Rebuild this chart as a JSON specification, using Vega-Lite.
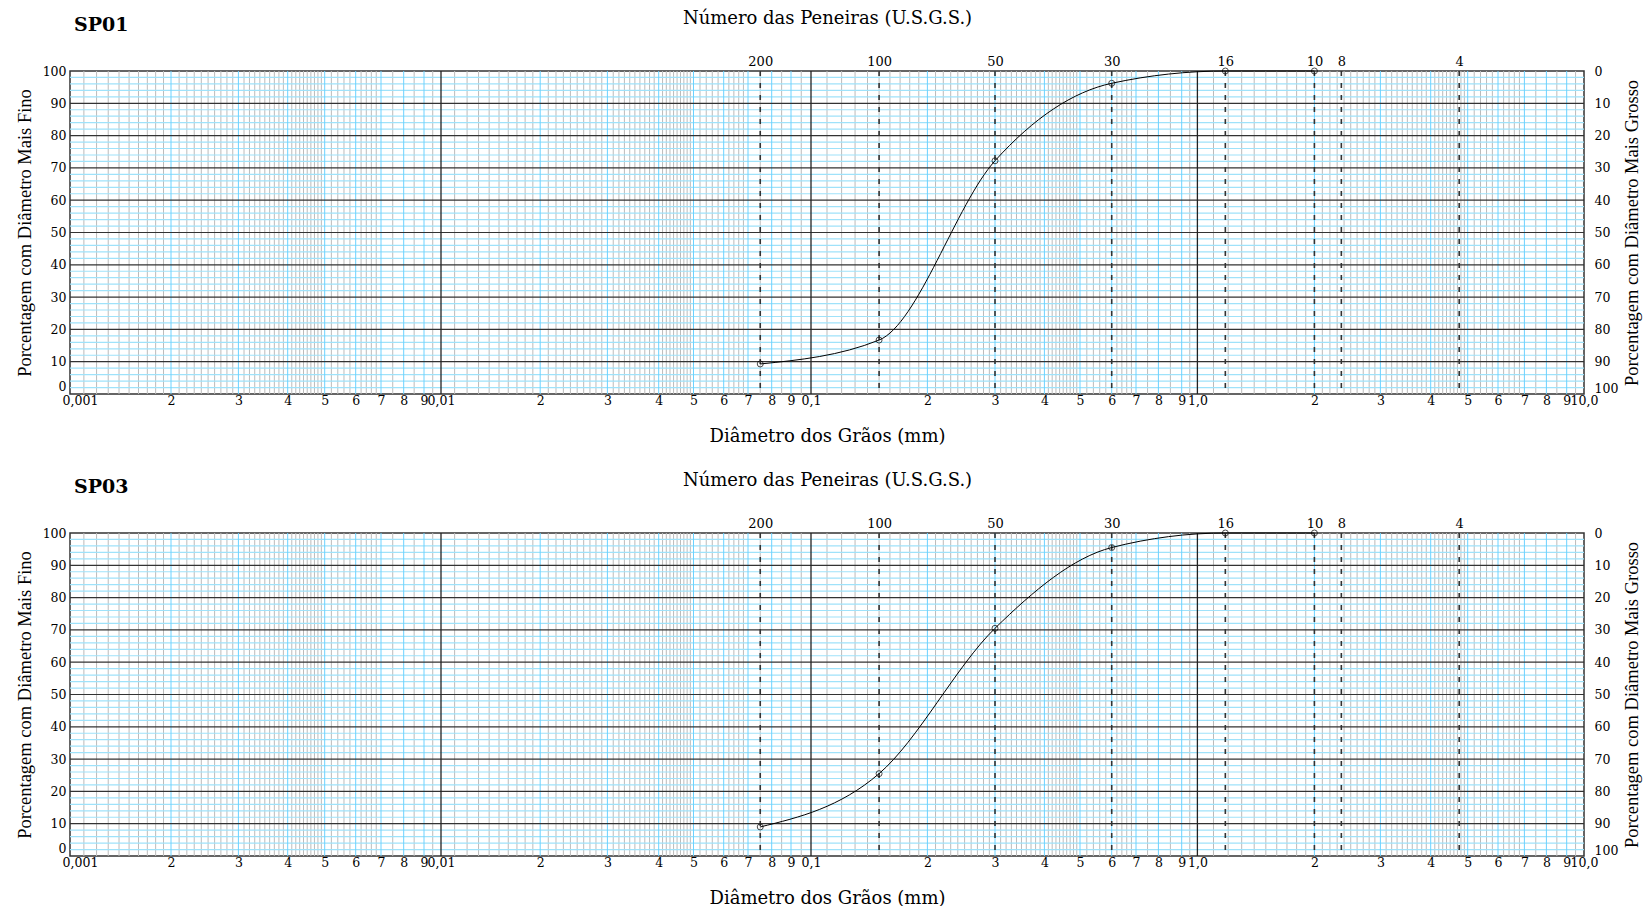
{
"$schema":"https://vega.github.io/schema/vega-lite/v6.json",
"background":"white",
"padding":{"left":14,"top":8,"right":5,"bottom":5},
"config":{"view":{"stroke":"#333","strokeWidth":1.5},"concat":{"spacing":23}},
"datasets":{
"vg":[{"v":0.0011},{"v":0.0012},{"v":0.0013},{"v":0.0014},{"v":0.0015},{"v":0.0016},{"v":0.0017},{"v":0.0018},{"v":0.0019},{"v":0.0021},{"v":0.0022},{"v":0.0023},{"v":0.0024},{"v":0.0025},{"v":0.0026},{"v":0.0027},{"v":0.0028},{"v":0.0029},{"v":0.0031},{"v":0.0032},{"v":0.0033},{"v":0.0034},{"v":0.0035},{"v":0.0036},{"v":0.0037},{"v":0.0038},{"v":0.0039},{"v":0.0041},{"v":0.0042},{"v":0.0043},{"v":0.0044},{"v":0.0045},{"v":0.0046},{"v":0.0047},{"v":0.0048},{"v":0.0049},{"v":0.0052},{"v":0.0054},{"v":0.0056},{"v":0.0058},{"v":0.0062},{"v":0.0064},{"v":0.0066},{"v":0.0068},{"v":0.0075},{"v":0.0085},{"v":0.0095},
{"v":0.011},{"v":0.012},{"v":0.013},{"v":0.014},{"v":0.015},{"v":0.016},{"v":0.017},{"v":0.018},{"v":0.019},{"v":0.021},{"v":0.022},{"v":0.023},{"v":0.024},{"v":0.025},{"v":0.026},{"v":0.027},{"v":0.028},{"v":0.029},{"v":0.031},{"v":0.032},{"v":0.033},{"v":0.034},{"v":0.035},{"v":0.036},{"v":0.037},{"v":0.038},{"v":0.039},{"v":0.041},{"v":0.042},{"v":0.043},{"v":0.044},{"v":0.045},{"v":0.046},{"v":0.047},{"v":0.048},{"v":0.049},{"v":0.052},{"v":0.054},{"v":0.056},{"v":0.058},{"v":0.062},{"v":0.064},{"v":0.066},{"v":0.068},{"v":0.075},{"v":0.085},{"v":0.095},
{"v":0.11},{"v":0.12},{"v":0.13},{"v":0.14},{"v":0.15},{"v":0.16},{"v":0.17},{"v":0.18},{"v":0.19},{"v":0.21},{"v":0.22},{"v":0.23},{"v":0.24},{"v":0.25},{"v":0.26},{"v":0.27},{"v":0.28},{"v":0.29},{"v":0.31},{"v":0.32},{"v":0.33},{"v":0.34},{"v":0.35},{"v":0.36},{"v":0.37},{"v":0.38},{"v":0.39},{"v":0.41},{"v":0.42},{"v":0.43},{"v":0.44},{"v":0.45},{"v":0.46},{"v":0.47},{"v":0.48},{"v":0.49},{"v":0.52},{"v":0.54},{"v":0.56},{"v":0.58},{"v":0.62},{"v":0.64},{"v":0.66},{"v":0.68},{"v":0.75},{"v":0.85},{"v":0.95},
{"v":1.1},{"v":1.2},{"v":1.3},{"v":1.4},{"v":1.5},{"v":1.6},{"v":1.7},{"v":1.8},{"v":1.9},{"v":2.1},{"v":2.2},{"v":2.3},{"v":2.4},{"v":2.5},{"v":2.6},{"v":2.7},{"v":2.8},{"v":2.9},{"v":3.1},{"v":3.2},{"v":3.3},{"v":3.4},{"v":3.5},{"v":3.6},{"v":3.7},{"v":3.8},{"v":3.9},{"v":4.1},{"v":4.2},{"v":4.3},{"v":4.4},{"v":4.5},{"v":4.6},{"v":4.7},{"v":4.8},{"v":4.9},{"v":5.2},{"v":5.4},{"v":5.6},{"v":5.8},{"v":6.2},{"v":6.4},{"v":6.6},{"v":6.8},{"v":7.5},{"v":8.5},{"v":9.5}],
"vc":[{"v":0.002},{"v":0.003},{"v":0.004},{"v":0.005},{"v":0.006},{"v":0.007},{"v":0.008},{"v":0.009},{"v":0.02},{"v":0.03},{"v":0.04},{"v":0.05},{"v":0.06},{"v":0.07},{"v":0.08},{"v":0.09},{"v":0.2},{"v":0.3},{"v":0.4},{"v":0.5},{"v":0.6},{"v":0.7},{"v":0.8},{"v":0.9},{"v":2},{"v":3},{"v":4},{"v":5},{"v":6},{"v":7},{"v":8},{"v":9}],
"vd":[{"v":0.01},{"v":0.1},{"v":1}],
"hc":[{"h":2},{"h":4},{"h":6},{"h":8},{"h":12},{"h":14},{"h":16},{"h":18},{"h":22},{"h":24},{"h":26},{"h":28},{"h":32},{"h":34},{"h":36},{"h":38},{"h":42},{"h":44},{"h":46},{"h":48},{"h":52},{"h":54},{"h":56},{"h":58},{"h":62},{"h":64},{"h":66},{"h":68},{"h":72},{"h":74},{"h":76},{"h":78},{"h":82},{"h":84},{"h":86},{"h":88},{"h":92},{"h":94},{"h":96},{"h":98}],
"hd":[{"h":10},{"h":20},{"h":30},{"h":40},{"h":50},{"h":60},{"h":70},{"h":80},{"h":90}],
"sv":[{"d":0.075,"n":"200"},{"d":0.15,"n":"100"},{"d":0.3,"n":"50"},{"d":0.6,"n":"30"},{"d":1.18,"n":"16"},{"d":2,"n":"10"},{"d":2.36,"n":"8"},{"d":4.75,"n":"4"}],
"curve":[
{"s":"SP01","d":0.075,"p":9.3},{"s":"SP01","d":0.15,"p":16.7},{"s":"SP01","d":0.3,"p":72.2},{"s":"SP01","d":0.6,"p":96.2},{"s":"SP01","d":1.18,"p":100},{"s":"SP01","d":2,"p":100},
{"s":"SP03","d":0.075,"p":9.0},{"s":"SP03","d":0.15,"p":25.5},{"s":"SP03","d":0.3,"p":70.5},{"s":"SP03","d":0.6,"p":95.5},{"s":"SP03","d":1.18,"p":100},{"s":"SP03","d":2,"p":100}]
},
"vconcat":[
{
"title":{"text":"SP01","anchor":"start","frame":"group","font":"DejaVu Serif","fontWeight":"bold","fontSize":19,"color":"#000","offset":-26,"dx":4},
"width":1514,"height":323,
"resolve":{"axis":{"x":"independent","y":"independent"}},
"layer":[
{"data":{"name":"vg"},"mark":{"type":"rule","color":"#bbbbbb","strokeWidth":1},"encoding":{"x":{"field":"v","type":"quantitative","axis":null,"scale":{"type":"log","nice":false,"domain":[0.001,0.002,0.003,0.004,0.005,0.006,0.007,0.008,0.009,0.01,0.02,0.03,0.04,0.05,0.06,0.07,0.08,0.09,0.1,0.2,0.3,0.4,0.5,0.6,0.7,0.8,0.9,1,2,3,4,5,6,7,8,9,10],"range":[0,101,168.4,217.7,254.7,285.7,311,333.7,354,371,470.2,537.4,588.7,623.5,653.7,678,701.7,721,741,857.4,925,974.4,1010,1041.7,1066,1088.4,1111.7,1127.4,1244.4,1310.4,1360.7,1397.7,1428,1454.4,1476.4,1496.7,1514]}}}},
{"data":{"name":"hc"},"mark":{"type":"rule","color":"#9fe2fa","strokeWidth":1.2},"encoding":{"y":{"field":"h","type":"quantitative","axis":null,"scale":{"domain":[0,100],"nice":false,"zero":false}}}},
{"data":{"name":"vc"},"mark":{"type":"rule","color":"#6cd2ff","strokeWidth":1},"encoding":{"x":{"field":"v","type":"quantitative","axis":null,"scale":{"type":"log","nice":false,"domain":[0.001,0.002,0.003,0.004,0.005,0.006,0.007,0.008,0.009,0.01,0.02,0.03,0.04,0.05,0.06,0.07,0.08,0.09,0.1,0.2,0.3,0.4,0.5,0.6,0.7,0.8,0.9,1,2,3,4,5,6,7,8,9,10],"range":[0,101,168.4,217.7,254.7,285.7,311,333.7,354,371,470.2,537.4,588.7,623.5,653.7,678,701.7,721,741,857.4,925,974.4,1010,1041.7,1066,1088.4,1111.7,1127.4,1244.4,1310.4,1360.7,1397.7,1428,1454.4,1476.4,1496.7,1514]}}}},
{"data":{"name":"hd"},"mark":{"type":"rule","color":"#333333","strokeWidth":1.2},"encoding":{"y":{"field":"h","type":"quantitative","axis":null,"scale":{"domain":[0,100],"nice":false,"zero":false}}}},
{"data":{"name":"vd"},"mark":{"type":"rule","color":"#222222","strokeWidth":1.3},"encoding":{"x":{"field":"v","type":"quantitative","axis":null,"scale":{"type":"log","nice":false,"domain":[0.001,0.002,0.003,0.004,0.005,0.006,0.007,0.008,0.009,0.01,0.02,0.03,0.04,0.05,0.06,0.07,0.08,0.09,0.1,0.2,0.3,0.4,0.5,0.6,0.7,0.8,0.9,1,2,3,4,5,6,7,8,9,10],"range":[0,101,168.4,217.7,254.7,285.7,311,333.7,354,371,470.2,537.4,588.7,623.5,653.7,678,701.7,721,741,857.4,925,974.4,1010,1041.7,1066,1088.4,1111.7,1127.4,1244.4,1310.4,1360.7,1397.7,1428,1454.4,1476.4,1496.7,1514]}}}},
{"data":{"name":"sv"},"mark":{"type":"rule","color":"#333333","strokeWidth":1.6,"strokeDash":[5,7]},"encoding":{"x":{"field":"d","type":"quantitative","scale":{"type":"log","nice":false,"domain":[0.001,0.002,0.003,0.004,0.005,0.006,0.007,0.008,0.009,0.01,0.02,0.03,0.04,0.05,0.06,0.07,0.08,0.09,0.1,0.2,0.3,0.4,0.5,0.6,0.7,0.8,0.9,1,2,3,4,5,6,7,8,9,10],"range":[0,101,168.4,217.7,254.7,285.7,311,333.7,354,371,470.2,537.4,588.7,623.5,653.7,678,701.7,721,741,857.4,925,974.4,1010,1041.7,1066,1088.4,1111.7,1127.4,1244.4,1310.4,1360.7,1397.7,1428,1454.4,1476.4,1496.7,1514]},"axis":{"orient":"top","values":[0.075,0.15,0.3,0.6,1.18,2,2.36,4.75],"labelExpr":"datum.value==0.075?'200':datum.value==0.15?'100':datum.value==0.3?'50':datum.value==0.6?'30':datum.value==1.18?'16':datum.value==2?'10':datum.value==2.36?'8':'4'","title":"Número das Peneiras (U.S.G.S.)","grid":false,"ticks":false,"domain":false,"labelOverlap":false,"labelFlush":false,"labelFont":"DejaVu Serif","labelFontSize":13,"labelColor":"#000","labelPadding":3,"titleFont":"DejaVu Serif","titleFontSize":18,"titleFontWeight":"normal","titleColor":"#000","titlePadding":28}}}},
{"data":{"name":"curve"},"transform":[{"filter":"datum.s=='SP01'"}],"mark":{"type":"line","color":"#000","strokeWidth":1,"interpolate":"monotone"},"encoding":{"x":{"field":"d","type":"quantitative","scale":{"type":"log","nice":false,"domain":[0.001,0.002,0.003,0.004,0.005,0.006,0.007,0.008,0.009,0.01,0.02,0.03,0.04,0.05,0.06,0.07,0.08,0.09,0.1,0.2,0.3,0.4,0.5,0.6,0.7,0.8,0.9,1,2,3,4,5,6,7,8,9,10],"range":[0,101,168.4,217.7,254.7,285.7,311,333.7,354,371,470.2,537.4,588.7,623.5,653.7,678,701.7,721,741,857.4,925,974.4,1010,1041.7,1066,1088.4,1111.7,1127.4,1244.4,1310.4,1360.7,1397.7,1428,1454.4,1476.4,1496.7,1514]},"axis":{"orient":"bottom","values":[0.001,0.002,0.003,0.004,0.005,0.006,0.007,0.008,0.009,0.01,0.02,0.03,0.04,0.05,0.06,0.07,0.08,0.09,0.1,0.2,0.3,0.4,0.5,0.6,0.7,0.8,0.9,1,2,3,4,5,6,7,8,9,10],"labelExpr":"datum.value==0.001?'0,001':datum.value==0.01?'0,01':datum.value==0.1?'0,1':datum.value==1?'1,0':datum.value==10?'10,0':format(datum.value/pow(10,floor(log(datum.value)/LN10+1e-9)),'.0f')","labelOffset":{"condition":{"test":"datum.value==0.001","value":10},"value":0},"title":"Diâmetro dos Grãos (mm)","grid":false,"ticks":false,"domain":false,"labelOverlap":false,"labelFlush":false,"labelFont":"DejaVu Serif","labelFontSize":12.5,"labelColor":"#000","labelPadding":0,"titleFont":"DejaVu Serif","titleFontSize":18,"titleFontWeight":"normal","titleColor":"#000","titlePadding":21}},"y":{"field":"p","type":"quantitative","scale":{"domain":[0,100],"nice":false,"zero":false},"axis":{"orient":"left","values":[0,10,20,30,40,50,60,70,80,90,100],"labelOffset":{"condition":{"test":"datum.value==0","value":-8},"value":0},"title":"Porcentagem com Diâmetro Mais Fino","grid":false,"ticks":false,"domain":false,"labelFlush":false,"labelOverlap":false,"labelFont":"DejaVu Serif","labelFontSize":12.5,"labelColor":"#000","labelPadding":4,"titleFont":"Liberation Serif","titleFontSize":18.5,"titleFontWeight":"normal","titleColor":"#000","titlePadding":8}}}},
{"data":{"name":"curve"},"transform":[{"filter":"datum.s=='SP01'"}],"mark":{"type":"point","shape":"circle","filled":false,"color":"#000","size":36,"strokeWidth":1},"encoding":{"x":{"field":"d","type":"quantitative","axis":null,"scale":{"type":"log","nice":false,"domain":[0.001,0.002,0.003,0.004,0.005,0.006,0.007,0.008,0.009,0.01,0.02,0.03,0.04,0.05,0.06,0.07,0.08,0.09,0.1,0.2,0.3,0.4,0.5,0.6,0.7,0.8,0.9,1,2,3,4,5,6,7,8,9,10],"range":[0,101,168.4,217.7,254.7,285.7,311,333.7,354,371,470.2,537.4,588.7,623.5,653.7,678,701.7,721,741,857.4,925,974.4,1010,1041.7,1066,1088.4,1111.7,1127.4,1244.4,1310.4,1360.7,1397.7,1428,1454.4,1476.4,1496.7,1514]}},"y":{"field":"p","type":"quantitative","scale":{"domain":[0,100],"nice":false,"zero":false},"axis":{"orient":"right","values":[0,10,20,30,40,50,60,70,80,90,100],"labelExpr":"''+(100-datum.value)","labelOffset":{"condition":{"test":"datum.value==0","value":-6},"value":0},"title":"Porcentagem com Diâmetro Mais Grosso","titleAngle":270,"grid":false,"ticks":false,"domain":false,"labelFlush":false,"labelOverlap":false,"labelFont":"DejaVu Serif","labelFontSize":12.5,"labelColor":"#000","labelPadding":10,"titleFont":"Liberation Serif","titleFontSize":18.5,"titleFontWeight":"normal","titleColor":"#000","titlePadding":24}}}}
]
},
{
"title":{"text":"SP03","anchor":"start","frame":"group","font":"DejaVu Serif","fontWeight":"bold","fontSize":19,"color":"#000","offset":-26,"dx":4},
"width":1514,"height":323,
"resolve":{"axis":{"x":"independent","y":"independent"}},
"layer":[
{"data":{"name":"vg"},"mark":{"type":"rule","color":"#bbbbbb","strokeWidth":1},"encoding":{"x":{"field":"v","type":"quantitative","axis":null,"scale":{"type":"log","nice":false,"domain":[0.001,0.002,0.003,0.004,0.005,0.006,0.007,0.008,0.009,0.01,0.02,0.03,0.04,0.05,0.06,0.07,0.08,0.09,0.1,0.2,0.3,0.4,0.5,0.6,0.7,0.8,0.9,1,2,3,4,5,6,7,8,9,10],"range":[0,101,168.4,217.7,254.7,285.7,311,333.7,354,371,470.2,537.4,588.7,623.5,653.7,678,701.7,721,741,857.4,925,974.4,1010,1041.7,1066,1088.4,1111.7,1127.4,1244.4,1310.4,1360.7,1397.7,1428,1454.4,1476.4,1496.7,1514]}}}},
{"data":{"name":"hc"},"mark":{"type":"rule","color":"#9fe2fa","strokeWidth":1.2},"encoding":{"y":{"field":"h","type":"quantitative","axis":null,"scale":{"domain":[0,100],"nice":false,"zero":false}}}},
{"data":{"name":"vc"},"mark":{"type":"rule","color":"#6cd2ff","strokeWidth":1},"encoding":{"x":{"field":"v","type":"quantitative","axis":null,"scale":{"type":"log","nice":false,"domain":[0.001,0.002,0.003,0.004,0.005,0.006,0.007,0.008,0.009,0.01,0.02,0.03,0.04,0.05,0.06,0.07,0.08,0.09,0.1,0.2,0.3,0.4,0.5,0.6,0.7,0.8,0.9,1,2,3,4,5,6,7,8,9,10],"range":[0,101,168.4,217.7,254.7,285.7,311,333.7,354,371,470.2,537.4,588.7,623.5,653.7,678,701.7,721,741,857.4,925,974.4,1010,1041.7,1066,1088.4,1111.7,1127.4,1244.4,1310.4,1360.7,1397.7,1428,1454.4,1476.4,1496.7,1514]}}}},
{"data":{"name":"hd"},"mark":{"type":"rule","color":"#333333","strokeWidth":1.2},"encoding":{"y":{"field":"h","type":"quantitative","axis":null,"scale":{"domain":[0,100],"nice":false,"zero":false}}}},
{"data":{"name":"vd"},"mark":{"type":"rule","color":"#222222","strokeWidth":1.3},"encoding":{"x":{"field":"v","type":"quantitative","axis":null,"scale":{"type":"log","nice":false,"domain":[0.001,0.002,0.003,0.004,0.005,0.006,0.007,0.008,0.009,0.01,0.02,0.03,0.04,0.05,0.06,0.07,0.08,0.09,0.1,0.2,0.3,0.4,0.5,0.6,0.7,0.8,0.9,1,2,3,4,5,6,7,8,9,10],"range":[0,101,168.4,217.7,254.7,285.7,311,333.7,354,371,470.2,537.4,588.7,623.5,653.7,678,701.7,721,741,857.4,925,974.4,1010,1041.7,1066,1088.4,1111.7,1127.4,1244.4,1310.4,1360.7,1397.7,1428,1454.4,1476.4,1496.7,1514]}}}},
{"data":{"name":"sv"},"mark":{"type":"rule","color":"#333333","strokeWidth":1.6,"strokeDash":[5,7]},"encoding":{"x":{"field":"d","type":"quantitative","scale":{"type":"log","nice":false,"domain":[0.001,0.002,0.003,0.004,0.005,0.006,0.007,0.008,0.009,0.01,0.02,0.03,0.04,0.05,0.06,0.07,0.08,0.09,0.1,0.2,0.3,0.4,0.5,0.6,0.7,0.8,0.9,1,2,3,4,5,6,7,8,9,10],"range":[0,101,168.4,217.7,254.7,285.7,311,333.7,354,371,470.2,537.4,588.7,623.5,653.7,678,701.7,721,741,857.4,925,974.4,1010,1041.7,1066,1088.4,1111.7,1127.4,1244.4,1310.4,1360.7,1397.7,1428,1454.4,1476.4,1496.7,1514]},"axis":{"orient":"top","values":[0.075,0.15,0.3,0.6,1.18,2,2.36,4.75],"labelExpr":"datum.value==0.075?'200':datum.value==0.15?'100':datum.value==0.3?'50':datum.value==0.6?'30':datum.value==1.18?'16':datum.value==2?'10':datum.value==2.36?'8':'4'","title":"Número das Peneiras (U.S.G.S.)","grid":false,"ticks":false,"domain":false,"labelOverlap":false,"labelFlush":false,"labelFont":"DejaVu Serif","labelFontSize":13,"labelColor":"#000","labelPadding":3,"titleFont":"DejaVu Serif","titleFontSize":18,"titleFontWeight":"normal","titleColor":"#000","titlePadding":28}}}},
{"data":{"name":"curve"},"transform":[{"filter":"datum.s=='SP03'"}],"mark":{"type":"line","color":"#000","strokeWidth":1,"interpolate":"monotone"},"encoding":{"x":{"field":"d","type":"quantitative","scale":{"type":"log","nice":false,"domain":[0.001,0.002,0.003,0.004,0.005,0.006,0.007,0.008,0.009,0.01,0.02,0.03,0.04,0.05,0.06,0.07,0.08,0.09,0.1,0.2,0.3,0.4,0.5,0.6,0.7,0.8,0.9,1,2,3,4,5,6,7,8,9,10],"range":[0,101,168.4,217.7,254.7,285.7,311,333.7,354,371,470.2,537.4,588.7,623.5,653.7,678,701.7,721,741,857.4,925,974.4,1010,1041.7,1066,1088.4,1111.7,1127.4,1244.4,1310.4,1360.7,1397.7,1428,1454.4,1476.4,1496.7,1514]},"axis":{"orient":"bottom","values":[0.001,0.002,0.003,0.004,0.005,0.006,0.007,0.008,0.009,0.01,0.02,0.03,0.04,0.05,0.06,0.07,0.08,0.09,0.1,0.2,0.3,0.4,0.5,0.6,0.7,0.8,0.9,1,2,3,4,5,6,7,8,9,10],"labelExpr":"datum.value==0.001?'0,001':datum.value==0.01?'0,01':datum.value==0.1?'0,1':datum.value==1?'1,0':datum.value==10?'10,0':format(datum.value/pow(10,floor(log(datum.value)/LN10+1e-9)),'.0f')","labelOffset":{"condition":{"test":"datum.value==0.001","value":10},"value":0},"title":"Diâmetro dos Grãos (mm)","grid":false,"ticks":false,"domain":false,"labelOverlap":false,"labelFlush":false,"labelFont":"DejaVu Serif","labelFontSize":12.5,"labelColor":"#000","labelPadding":0,"titleFont":"DejaVu Serif","titleFontSize":18,"titleFontWeight":"normal","titleColor":"#000","titlePadding":21}},"y":{"field":"p","type":"quantitative","scale":{"domain":[0,100],"nice":false,"zero":false},"axis":{"orient":"left","values":[0,10,20,30,40,50,60,70,80,90,100],"labelOffset":{"condition":{"test":"datum.value==0","value":-8},"value":0},"title":"Porcentagem com Diâmetro Mais Fino","grid":false,"ticks":false,"domain":false,"labelFlush":false,"labelOverlap":false,"labelFont":"DejaVu Serif","labelFontSize":12.5,"labelColor":"#000","labelPadding":4,"titleFont":"Liberation Serif","titleFontSize":18.5,"titleFontWeight":"normal","titleColor":"#000","titlePadding":8}}}},
{"data":{"name":"curve"},"transform":[{"filter":"datum.s=='SP03'"}],"mark":{"type":"point","shape":"circle","filled":false,"color":"#000","size":36,"strokeWidth":1},"encoding":{"x":{"field":"d","type":"quantitative","axis":null,"scale":{"type":"log","nice":false,"domain":[0.001,0.002,0.003,0.004,0.005,0.006,0.007,0.008,0.009,0.01,0.02,0.03,0.04,0.05,0.06,0.07,0.08,0.09,0.1,0.2,0.3,0.4,0.5,0.6,0.7,0.8,0.9,1,2,3,4,5,6,7,8,9,10],"range":[0,101,168.4,217.7,254.7,285.7,311,333.7,354,371,470.2,537.4,588.7,623.5,653.7,678,701.7,721,741,857.4,925,974.4,1010,1041.7,1066,1088.4,1111.7,1127.4,1244.4,1310.4,1360.7,1397.7,1428,1454.4,1476.4,1496.7,1514]}},"y":{"field":"p","type":"quantitative","scale":{"domain":[0,100],"nice":false,"zero":false},"axis":{"orient":"right","values":[0,10,20,30,40,50,60,70,80,90,100],"labelExpr":"''+(100-datum.value)","labelOffset":{"condition":{"test":"datum.value==0","value":-6},"value":0},"title":"Porcentagem com Diâmetro Mais Grosso","titleAngle":270,"grid":false,"ticks":false,"domain":false,"labelFlush":false,"labelOverlap":false,"labelFont":"DejaVu Serif","labelFontSize":12.5,"labelColor":"#000","labelPadding":10,"titleFont":"Liberation Serif","titleFontSize":18.5,"titleFontWeight":"normal","titleColor":"#000","titlePadding":24}}}}
]
}
]
}
